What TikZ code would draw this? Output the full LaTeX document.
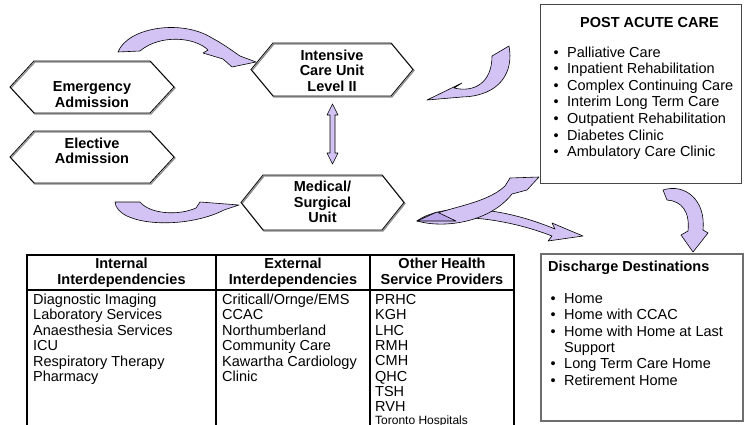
\documentclass[tikz,border=0pt]{standalone}
\usepackage{fontspec}
\setmainfont{Liberation Sans}
\definecolor{arrfill}{RGB}{210,195,244}
\definecolor{arrdark}{RGB}{186,166,232}
\definecolor{boxdark}{RGB}{70,70,70}
\definecolor{boxgray}{RGB}{110,110,110}
\newcommand\bul{\makebox[13.5pt][l]{•}}
\newcommand\hexpath[6]{(#1,#2) -- (#1+#5,#3) -- (#4-#5,#3) -- (#4,#2) -- (#4-#5,#6) -- (#1+#5,#6) -- cycle}
\begin{document}
\begin{tikzpicture}[x=1pt,y=-1pt,
  hexa/.style={draw=black, line width=0.8pt, line join=miter},
  hexshadow/.style={draw=black!45, line width=1.2pt, shift={(1,1)}},
  barrow/.style={draw=black, line width=0.6pt, fill=arrfill, line join=round},
  hlabel/.style={font=\fontsize{14.5}{15.5}\selectfont\bfseries, align=center, inner sep=0pt},
  body/.style={font=\fontsize{14.5}{16}\selectfont, inner sep=0pt, anchor=base west},
  bodyb/.style={body, font=\fontsize{14.5}{16}\selectfont\bfseries},
  headc/.style={font=\fontsize{14.5}{16}\selectfont\bfseries, inner sep=0pt, anchor=base},
  tline/.style={line width=1.6pt, draw=black},
]
\useasboundingbox (0,0) rectangle (744,425);
\clip (0,0) rectangle (744,425);

% ---------- hexagons ----------
\draw[hexshadow] \hexpath{10}{87}{61}{174}{24}{113};
\draw[hexa] \hexpath{10}{87}{61}{174}{24}{113};
\node[hlabel] (emerg) at (92,94.5) {Emergency\\Admission};
\draw[hexshadow] \hexpath{10}{157}{131}{174}{24}{183};
\draw[hexa] \hexpath{10}{157}{131}{174}{24}{183};
\node[hlabel] (elect) at (92,151) {Elective\\Admission};
\draw[hexshadow] \hexpath{251}{69.5}{43}{413}{22}{96};
\draw[hexa] \hexpath{251}{69.5}{43}{413}{22}{96};
\node[hlabel] (icu) at (332,70.5) {Intensive\\Care Unit\\Level II};
\draw[hexshadow] \hexpath{241}{202.5}{175}{404}{22}{230};
\draw[hexa] \hexpath{241}{202.5}{175}{404}{22}{230};
\node[hlabel] (med) at (322.5,202) {Medical/\\Surgical\\Unit};

% ---------- double arrow ICU <-> Medical ----------
\draw[barrow] (332.5,104) -- (338,115) -- (335,115) -- (335,153) -- (338,153) -- (332.5,164)
  -- (327,153) -- (330,153) -- (330,115) -- (327,115) -- cycle;

% ---------- curved block arrows ----------
% Emergency -> ICU
\draw[barrow] (118,52) .. controls (128,27) and (182,19) .. (212,38)
  .. controls (225,45) and (234,52) .. (240,56) -- (256,62) -- (232,67) -- (223,59)
  -- (203,53) -- (208,50) .. controls (195,37) and (160,34) .. (140,51) -- cycle;
% Post acute -> ICU
\draw[barrow] (509,46) .. controls (514,72) and (500,96) .. (462,97) -- (427,100)
  -- (462,83) -- (454,88) .. controls (475,93) and (492,82) .. (492,56) -- cycle;
% Elective -> Medical
\draw[barrow] (115,202) .. controls (117,226) and (185,230) .. (224,210) -- (239,205)
  -- (200,202) -- (196,208) .. controls (178,216) and (150,214) .. (140,202) -- cycle;
% Medical -> Discharge (twisted ribbon)
\draw[barrow] (417,221) .. controls (440,204) and (495,204) .. (555,229) -- (552,223)
  -- (583,236) -- (548,241) -- (552,236) .. controls (500,216) and (450,214) .. (417,221) -- cycle;
% Medical -> Post acute
\draw[barrow] (417,221) .. controls (445,229) and (490,222) .. (512,194) -- (527,190)
  -- (539,177) -- (510,178) -- (505,186) .. controls (485,205) and (445,207) .. (417,221) -- cycle;
\draw[barrow, fill=arrdark] (417,221) -- (437,212) -- (456,221) -- cycle;
% Post acute -> Discharge
\draw[barrow] (663,190) .. controls (685,183) and (706,200) .. (703,230) -- (708,233)
  -- (693,252) -- (681,235) -- (688,231) .. controls (690,212) and (682,201) .. (667,200) -- cycle;

% ---------- Post acute care box ----------
\node[draw=boxdark, line width=1pt, minimum width=201pt, minimum height=179pt, inner sep=0pt,
  anchor=north west] (pacbox) at (540,4) {};
\node[headc] (pactitle) at (649.5,27.5) {POST ACUTE CARE};
\foreach \t [count=\i from 0] in {Palliative Care, Inpatient Rehabilitation, Complex Continuing Care,
  Interim Long Term Care, Outpatient Rehabilitation, Diabetes Clinic, Ambulatory Care Clinic}
  \node[body] (pac\i) at (553.5,57.5+16.5*\i) {\bul\t};

% ---------- Discharge box ----------
\node[draw=boxgray, line width=1.8pt, minimum width=202pt, minimum height=167pt, inner sep=0pt,
  anchor=north west] (disbox) at (540,253) {};
\node[bodyb] (distitle) at (548,271) {Discharge Destinations};
\node[body] (dis0) at (550.5,303.5) {\bul Home};
\node[body] (dis1) at (550.5,319.8) {\bul Home with CCAC};
\node[body] (dis2) at (550.5,336.2) {\bul Home with Home at Last};
\node[body] (dis3) at (564,352.5) {Support};
\node[body] (dis4) at (550.5,368.8) {\bul Long Term Care Home};
\node[body] (dis5) at (550.5,385.2) {\bul Retirement Home};

% ---------- table ----------
\draw[tline] (27,440) -- (27,255) -- (514,255) -- (514,440);
\draw[tline] (27,290) -- (514,290);
\draw[tline] (216,255) -- (216,440);
\draw[tline] (370,255) -- (370,440);
\node[headc] (h1a) at (121.5,268.5) {Internal};
\node[headc] (h1b) at (121.5,284) {Interdependencies};
\node[headc] (h2a) at (293,268.5) {External};
\node[headc] (h2b) at (293,284) {Interdependencies};
\node[headc] (h3a) at (442,268.5) {Other Health};
\node[headc] (h3b) at (442,284) {Service Providers};
\foreach \t [count=\i from 0] in {Diagnostic Imaging, Laboratory Services, Anaesthesia Services,
  ICU, Respiratory Therapy, Pharmacy}
  \node[body] (ca\i) at (33,304.5+15.4*\i) {\t};
\foreach \t [count=\i from 0] in {Criticall/Ornge/EMS, CCAC, Northumberland, Community Care,
  Kawartha Cardiology, Clinic}
  \node[body] (cb\i) at (222,304.5+15.4*\i) {\t};
\foreach \t [count=\i from 0] in {PRHC, KGH, LHC, RMH, CMH, QHC, TSH, RVH}
  \node[body] (cc\i) at (375,304.5+15.3*\i) {\t};
\node[body, font=\fontsize{12}{13}\selectfont] (cc8) at (375,424) {Toronto Hospitals};
\end{tikzpicture}
\end{document}
